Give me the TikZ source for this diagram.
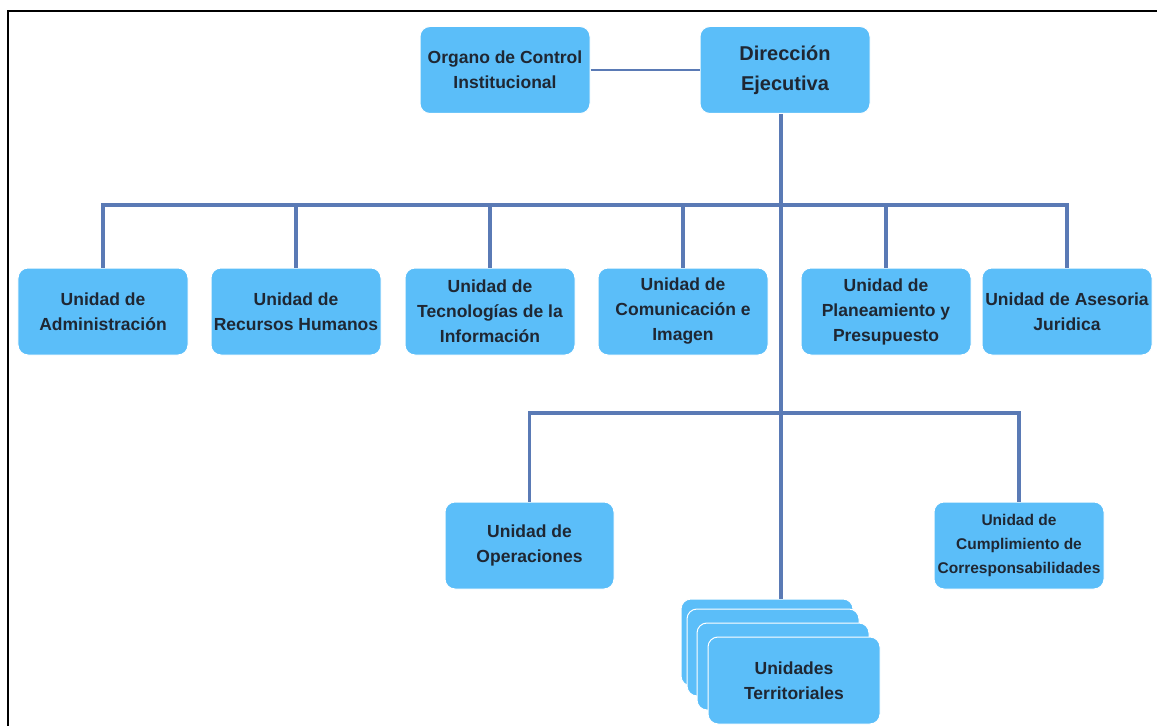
\documentclass[tikz,border=0pt]{standalone}
\usepackage{fontspec}
\setmainfont{Liberation Sans}
\definecolor{boxfill}{HTML}{5BBEF9}
\definecolor{linkblue}{HTML}{5A7AB5}
\definecolor{inktext}{HTML}{1F2733}
\begin{document}
\begin{tikzpicture}[x=1bp,y=-1bp,
  unit/.style={rectangle, rounded corners=10bp, fill=boxfill, draw=white, line width=1bp,
    minimum width=170bp, minimum height=87bp, inner sep=0pt, align=center,
    text=inktext, font=\bfseries\fontsize{17.5bp}{25bp}\selectfont},
  link/.style={draw=linkblue, line width=3.2bp},
  thinlink/.style={draw=linkblue, line width=1.6bp}]
\useasboundingbox (0,0) rectangle (1157,726);
\begin{scope}
\clip (0,0) rectangle (1157,726);
% outer frame (runs off the page at right and bottom)
\draw[line width=2.4bp, black] (8,760) -- (8,11) -- (1190,11);

% top level
\node[unit] (org) at (505,70) {Organo de Control\\Institucional};
\node[unit, font=\bfseries\fontsize{20bp}{30bp}\selectfont] (dir) at (785,70) {Dirección\\Ejecutiva};

% first row of units
\node[unit] (adm) at (103,311.5) {Unidad de\\Administración};
\node[unit] (rh)  at (296,311.5) {Unidad de\\Recursos Humanos};
\node[unit] (tic) at (490,311.5) {Unidad de\\Tecnologías de la\\Información};
\node[unit] (com) at (683,311.5) {Unidad de\\Comunicación e\\Imagen};
\node[unit] (plan) at (886,311.5) {Unidad de\\Planeamiento y\\Presupuesto};
\node[unit] (jur) at (1067,311.5) {Unidad de Asesoria\\Juridica};

% second row
\node[unit, minimum width=169bp] (ops) at (529.5,545.5) {Unidad de\\Operaciones};
\node[unit, font=\bfseries\fontsize{15.5bp}{24bp}\selectfont] (cum) at (1019,545.5) {Unidad de\\Cumplimiento de\\Corresponsabilidades};

% stacked territorial units
\node[unit, minimum width=172bp] (ter1) at (767,642.5) {};
\node[unit, minimum width=172bp] (ter2) at (773,652.5) {};
\node[unit, minimum width=172bp] (ter3) at (783,666.5) {};
\node[unit, minimum width=172bp] (ter4) at (794,680.5) {Unidades\\Territoriales};

% connectors
\coordinate (busA) at (781,205);
\coordinate (busB) at (781,413);
\path[thinlink] (org.east) -- (dir.west |- org.east);
\path[link] (dir.south -| busA) -- (busA |- ter1.north);
\foreach \n in {adm,rh,tic,com,plan,jur}
  \path[link] (\n.north) |- (busA);
\foreach \n in {ops,cum}
  \path[link] (\n.north) |- (busB);
\end{scope}
\end{tikzpicture}
\end{document}
